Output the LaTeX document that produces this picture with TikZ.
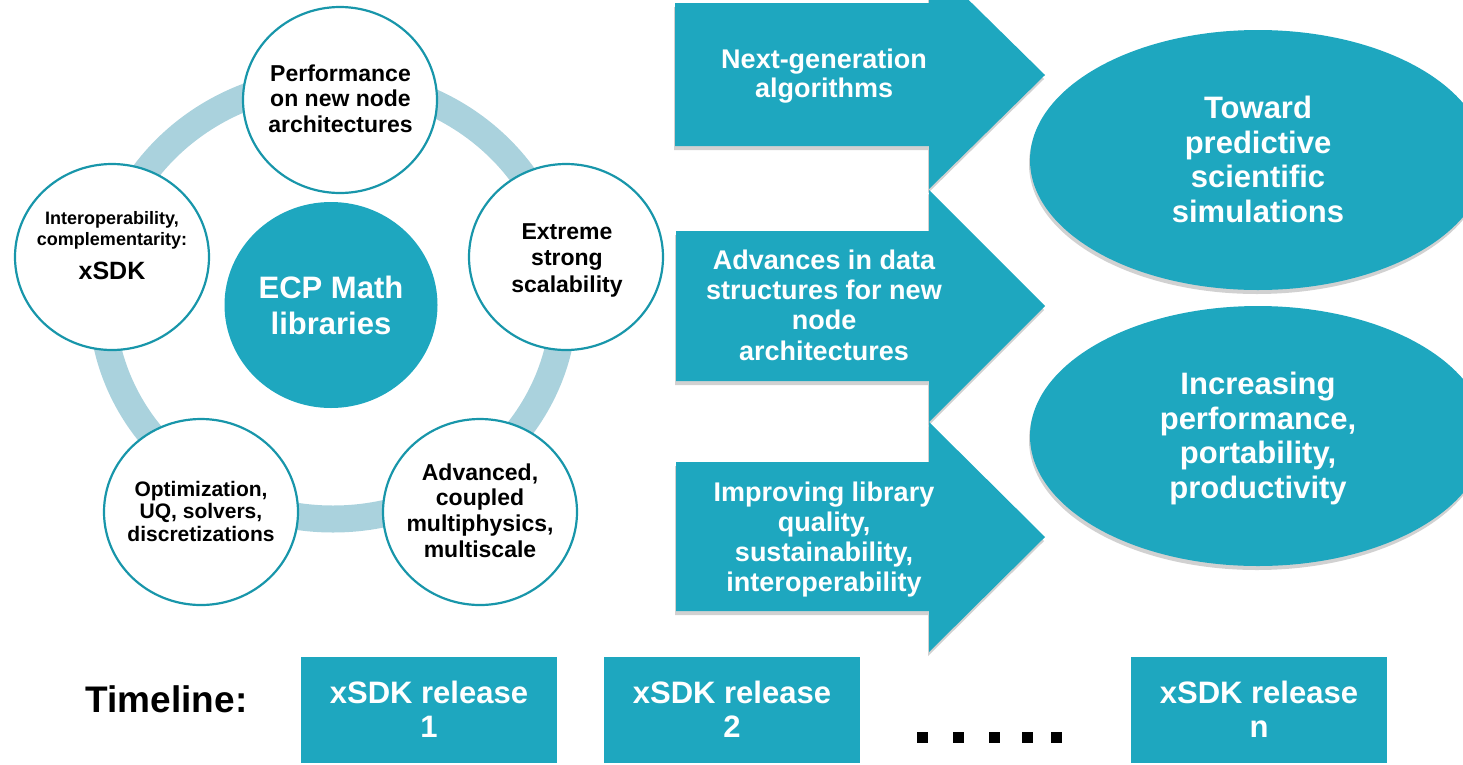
\documentclass[tikz,border=0pt]{standalone}
\usepackage{fontspec}
\setmainfont{Liberation Sans}
\usetikzlibrary{shapes.geometric,shadows}
\definecolor{ecpteal}{RGB}{30,167,191}
\definecolor{ecpline}{RGB}{24,150,170}
\definecolor{ecpring}{RGB}{170,210,221}
\begin{document}
\begin{tikzpicture}[x=1pt,y=-1pt,
  fnt/.style 2 args={font=\fontsize{#1}{#2}\selectfont\bfseries},
  txt/.style={align=center, inner sep=0pt},
  wtxt/.style={txt, text=white},
  softshadow/.style={drop shadow={shadow xshift=-1pt, shadow yshift=-4pt, opacity=0.18, fill=black}},
  ring/.style={draw=ecpring, line width=27pt},
  circ/.style={ellipse, draw=ecpline, line width=2.2pt, fill=white, minimum width=194pt, minimum height=186pt, inner sep=0pt},
  hub/.style={ellipse, fill=ecpteal, minimum width=213pt, minimum height=206pt, inner sep=0pt},
  chev/.style={fill=ecpteal, softshadow},
  goal/.style={ellipse, fill=ecpteal, minimum width=456pt, minimum height=260pt, inner sep=0pt, text=white, align=center, softshadow, fnt={31}{34.5}},
  rel/.style={rectangle, fill=ecpteal, minimum width=256pt, minimum height=106pt, inner sep=0pt, text=white, align=center, fnt={31}{34}},
  dot/.style={fill=black}
]
\useasboundingbox (0,0) rectangle (1463,764);
\clip (0,0) rectangle (1463,764);

% ring
\draw[ring] (333,300) ellipse [x radius=231pt, y radius=219pt];

% circles
\node[hub] (hub) at (331,305) {};
\node[circ] (perf) at (340,100) {};
\node[circ] (scal) at (566,257) {};
\node[circ] (multi) at (480,512) {};
\node[circ] (opt) at (201,512) {};
\node[circ] (interop) at (112,257) {};

\node[wtxt, fnt={31}{36}] (hubt) at (331,308.8) {\strut ECP Math\\libraries\strut};
\node[txt, fnt={23}{25.5}] (perft) at (340.5,101.4) {\strut Performance\\on new node\\architectures\strut};
\node[txt, fnt={23}{26.5}] (scalt) at (567,260.2) {\strut Extreme\\strong\\scalability\strut};
\node[txt, fnt={23}{25.7}] (multit) at (480,513.4) {\strut Advanced,\\coupled\\multiphysics,\\multiscale\strut};
\node[txt, fnt={21}{22.7}] (optt) at (201,514.2) {\strut Optimization,\\UQ, solvers,\\discretizations\strut};
\node[txt, fnt={18}{20.5}] (interopt) at (112,249.7) {\strut Interoperability,\\complementarity:\strut\\[3pt]{\fontsize{25}{34}\selectfont xSDK\strut}};

% arrows
\fill[chev] (675,3) -- (929,3) -- (929,-39) -- (1045,75) -- (929,189) -- (929,146) -- (675,146) -- cycle;
\fill[chev] (676,231) -- (929,231) -- (929,190) -- (1045,306) -- (929,422) -- (929,381) -- (676,381) -- cycle;
\fill[chev] (676,462) -- (929,462) -- (929,422) -- (1045,537) -- (929,652) -- (929,611) -- (676,611) -- cycle;

\node[wtxt, fnt={27}{29.6}] (a1) at (824,76.9) {\strut Next-generation\\algorithms\strut};
\node[wtxt, fnt={27}{30.3}] (a2) at (824,308.7) {\strut Advances in data\\structures for new\\node\\architectures\strut};
\node[wtxt, fnt={27}{30}] (a3) at (824,540) {\strut Improving library\\quality,\\sustainability,\\interoperability\strut};

% goals
\node[goal] (g1) at (1258,160) {\rule{0pt}{31pt}Toward\\predictive\\scientific\\simulations\strut};
\node[goal] (g2) at (1258,436) {\rule{0pt}{31pt}Increasing\\performance,\\portability,\\productivity\strut};

% timeline
\node[txt, fnt={37}{40}, anchor=base] (timeline) at (166.5,712) {Timeline:};
\node[rel] (r1) at (429,710) {\rule{0pt}{30.2pt}xSDK release\\1\strut};
\node[rel] (r2) at (732,710) {\rule{0pt}{30.2pt}xSDK release\\2\strut};
\node[rel] (rn) at (1259,710) {\rule{0pt}{30.2pt}xSDK release\\n\strut};

\fill[dot] (917,732) rectangle +(11,11);
\fill[dot] (953,732) rectangle +(11,11);
\fill[dot] (989,732) rectangle +(11,11);
\fill[dot] (1022,732) rectangle +(11,11);
\fill[dot] (1051,732) rectangle +(11,11);
\end{tikzpicture}
\end{document}
